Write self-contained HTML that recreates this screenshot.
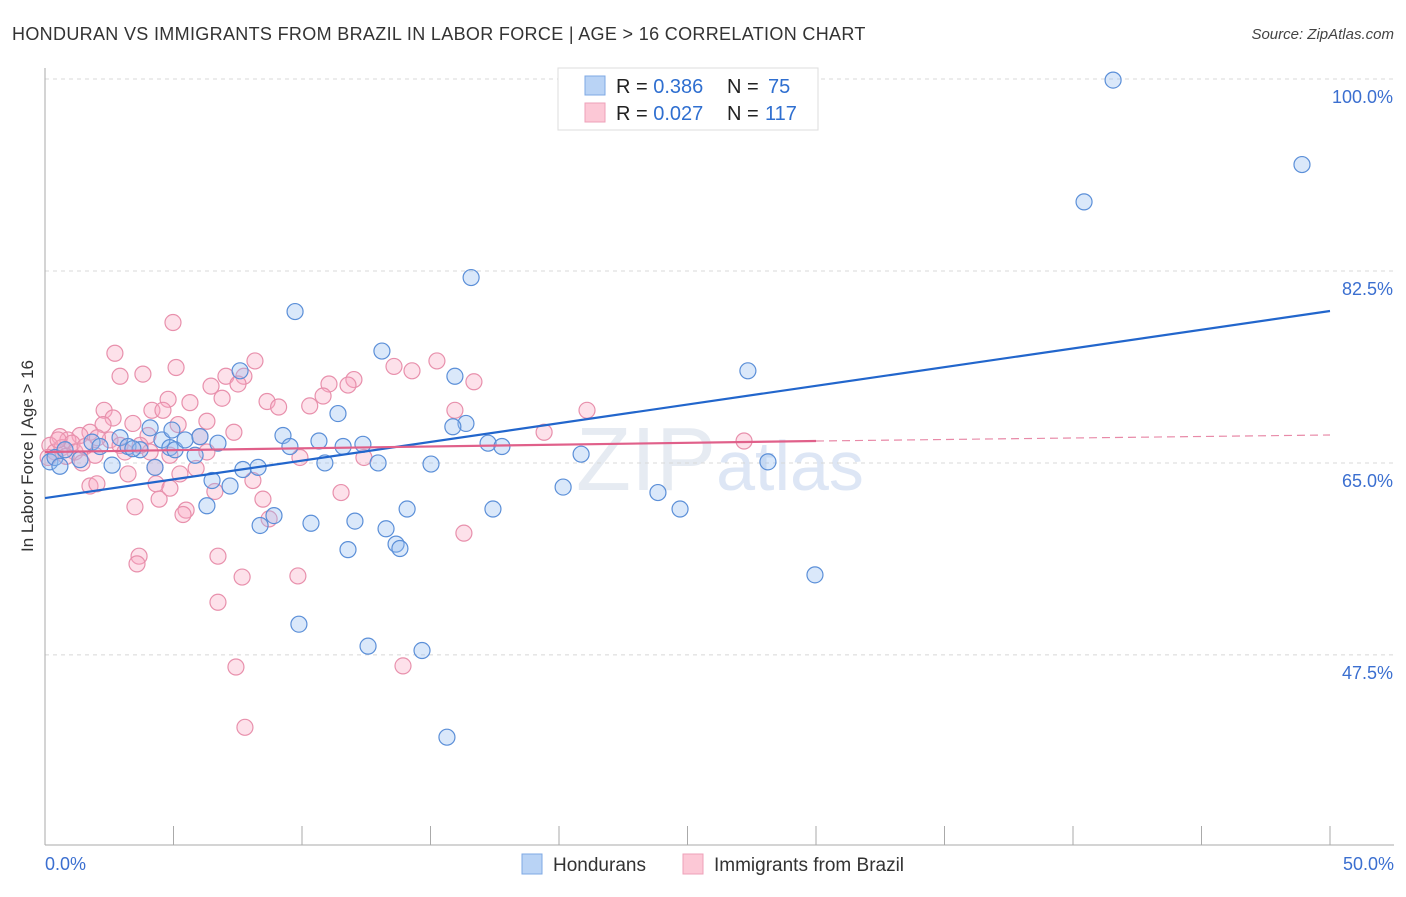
<!DOCTYPE html>
<html><head><meta charset="utf-8"><style>
body{margin:0;background:#fff;font-family:"Liberation Sans",sans-serif;}
svg text{font-family:"Liberation Sans",sans-serif;}
</style></head><body>
<svg id="c" width="1406" height="892" xmlns="http://www.w3.org/2000/svg">
<text x="12" y="40" font-size="18" fill="#333" letter-spacing="0.33">HONDURAN VS IMMIGRANTS FROM BRAZIL IN LABOR FORCE | AGE &gt; 16 CORRELATION CHART</text>
<text x="1394" y="39" font-size="15" fill="#444" text-anchor="end" font-style="italic">Source: ZipAtlas.com</text>
<text x="720" y="490" font-size="90" fill="#e6ebf2" text-anchor="middle" font-family="Liberation Serif">ZIP<tspan fill="#dde6f5" font-family="Liberation Sans" font-size="70">atlas</tspan></text>
<g id="grid"></g><g id="axes"></g><g id="pts"></g><g id="lines"></g>
<text transform="translate(33,456) rotate(-90)" font-size="17" fill="#333" text-anchor="middle">In Labor Force | Age &gt; 16</text>
<g>
<rect x="558" y="68" width="260" height="62" fill="#fff" stroke="#ddd"/>
<rect x="585" y="76" width="20" height="19" fill="#b9d3f5" stroke="#7ea8e4"/>
<rect x="585" y="103" width="20" height="19" fill="#fcc8d6" stroke="#eea0b8"/>
<text x="616" y="93" font-size="20" fill="#222">R = <tspan fill="#2f6fd0">0.386</tspan><tspan x="727">N = </tspan><tspan fill="#2f6fd0" x="768">75</tspan></text>
<text x="616" y="120" font-size="20" fill="#222">R = <tspan fill="#2f6fd0">0.027</tspan><tspan x="727">N = </tspan><tspan fill="#2f6fd0" x="765">117</tspan></text>
</g>
<g>
<rect x="522" y="854" width="20" height="20" fill="#b9d3f5" stroke="#7ea8e4"/>
<text x="553" y="871" font-size="19" fill="#333">Hondurans</text>
<rect x="683" y="854" width="20" height="20" fill="#fcc8d6" stroke="#eea0b8"/>
<text x="714" y="871" font-size="19" fill="#333">Immigrants from Brazil</text>
</g>
</svg>
<script>
const yTicks=[100,82.5,65,47.5];
const yTickLabels=["100.0%","82.5%","65.0%","47.5%"];
const blueX=[41.56,48.91,40.43,16.58,9.73,13.11,27.35,15.95,7.59,11.40,16.38,15.87,9.26,10.66,12.37,11.60,9.53,17.24,17.78,20.86,12.96,10.89,15.02,28.13,8.29,7.70,20.16,23.85,7.20,6.50,14.09,17.43,24.71,6.30,8.91,12.06,10.35,8.37,13.27,13.66,13.81,11.79,29.96,9.88,12.57,14.67,15.64,0.19,0.39,0.58,0.78,1.36,1.83,2.14,2.61,2.92,3.23,3.70,4.09,4.55,4.86,5.06,5.45,5.84,6.03,6.73,4.28,3.42,4.94];
const blueY=[99.9,92.2,88.8,81.9,78.8,75.2,73.4,72.9,73.4,69.5,68.6,68.3,67.5,67.0,66.7,66.5,66.5,66.8,66.5,65.8,65.0,65.0,64.9,65.1,64.6,64.4,62.8,62.3,62.9,63.4,60.8,60.8,60.8,61.1,60.2,59.7,59.5,59.3,59.0,57.6,57.2,57.1,54.8,50.3,48.3,47.9,40.0,65.1,65.5,64.7,66.2,65.3,66.9,66.5,64.8,67.3,66.5,66.2,68.2,67.1,66.4,66.2,67.1,65.7,67.4,66.8,64.6,66.3,68.0];
const pinkX=[4.98,2.72,5.10,8.17,15.25,13.58,14.28,2.92,3.81,7.04,7.74,11.05,12.02,11.79,16.69,6.46,7.51,4.79,6.89,8.64,10.82,5.64,9.09,10.30,4.16,4.59,21.09,15.95,2.30,2.65,6.30,3.42,2.26,5.18,7.35,19.42,27.20,4.01,6.03,1.75,1.36,0.58,0.89,9.92,12.41,6.30,4.09,4.86,4.28,5.88,3.23,5.25,4.32,8.09,1.75,2.02,4.86,6.61,8.48,11.52,4.44,3.50,5.49,5.37,8.72,16.30,3.66,3.58,6.73,7.67,9.84,6.73,7.43,13.93,7.78,0.19,0.39,0.66,1.05,1.17,1.56,1.95,1.44,2.53,2.92,3.11,3.70,0.12,0.51,2.04,0.82];
const pinkY=[77.8,75.0,73.7,74.3,74.3,73.8,73.4,72.9,73.1,72.9,72.9,72.2,72.6,72.1,72.4,72.0,72.2,70.8,70.9,70.6,71.1,70.5,70.1,70.2,69.8,69.8,69.8,69.8,69.8,69.1,68.8,68.6,68.5,68.5,67.8,67.8,67.0,67.5,67.4,67.8,67.5,67.4,67.1,65.5,65.5,66.0,66.0,65.7,64.6,64.5,64.0,64.0,63.1,63.4,62.9,63.1,62.7,62.4,61.7,62.3,61.7,61.0,60.7,60.3,59.9,58.6,56.5,55.8,56.5,54.6,54.7,52.3,46.4,46.5,40.9,66.6,66.0,66.4,66.8,66.0,66.5,65.7,65.0,67.1,66.6,66.0,66.6,65.5,67.1,67.3,65.6];
const blueTrend=[[0,61.8],[50,78.85]];
const pinkTrend=[[0,66.0],[30,67.0],[50,67.55]];
const xs=v=>45+v*25.7, ys=v=>79+(100-v)*10.97;
const NS="http://www.w3.org/2000/svg";
function mk(tag,attrs,parent){const e=document.createElementNS(NS,tag);for(const k in attrs)e.setAttribute(k,attrs[k]);document.getElementById(parent).appendChild(e);return e;}
yTicks.forEach((t,i)=>{
 const l=mk('line',{x1:45,x2:1394,y1:ys(t),y2:ys(t),stroke:'#d8d8d8','stroke-dasharray':'4,4'},'grid');
 
 
 const tx=mk('text',{x:1393,y:ys(t)+24,'font-size':18,fill:'#3b6fd0','text-anchor':'end'},'grid');
 tx.textContent=yTickLabels[i];
 
 
});
let a=mk('line',{x1:45,x2:45,y1:68,y2:845,stroke:'#aaa'},'axes');


a=mk('line',{x1:45,x2:1394,y1:845,y2:845,stroke:'#aaa'},'axes');


for(let i=0;i<=10;i++){const t=mk('line',{x1:xs(i*5),x2:xs(i*5),y1:826,y2:845,stroke:'#aaa'},'axes');
 
 }
[["0.0%",45,"start"],["50.0%",1394,"end"]].forEach(d=>{const t=mk('text',{x:d[1],y:870,'font-size':18,fill:'#3b6fd0','text-anchor':d[2]},'axes');t.textContent=d[0];
 
 });
function pts(X,Y,fill,stroke,name){X.forEach((x,i)=>{const c=mk('circle',{cx:xs(x),cy:ys(Y[i]),r:8,fill:fill,stroke:stroke,'stroke-width':1.2},'pts');
 
 });}
pts(pinkX,pinkY,'rgba(248,170,195,0.35)','#e890ac','brazil-point');
pts(blueX,blueY,'rgba(150,190,240,0.35)','#5b8fd8','honduran-point');
let ln=mk('line',{x1:xs(blueTrend[0][0]),y1:ys(blueTrend[0][1]),x2:xs(blueTrend[1][0]),y2:ys(blueTrend[1][1]),stroke:'#2266cc','stroke-width':2.2},'lines');


ln=mk('line',{x1:xs(pinkTrend[0][0]),y1:ys(pinkTrend[0][1]),x2:xs(pinkTrend[1][0]),y2:ys(pinkTrend[1][1]),stroke:'#e0608a','stroke-width':2.2},'lines');


ln=mk('line',{x1:xs(pinkTrend[1][0]),y1:ys(pinkTrend[1][1]),x2:xs(pinkTrend[2][0]),y2:ys(pinkTrend[2][1]),stroke:'#e88aa8','stroke-width':1.2,'stroke-dasharray':'8,5'},'lines');


</script>
</body></html>
